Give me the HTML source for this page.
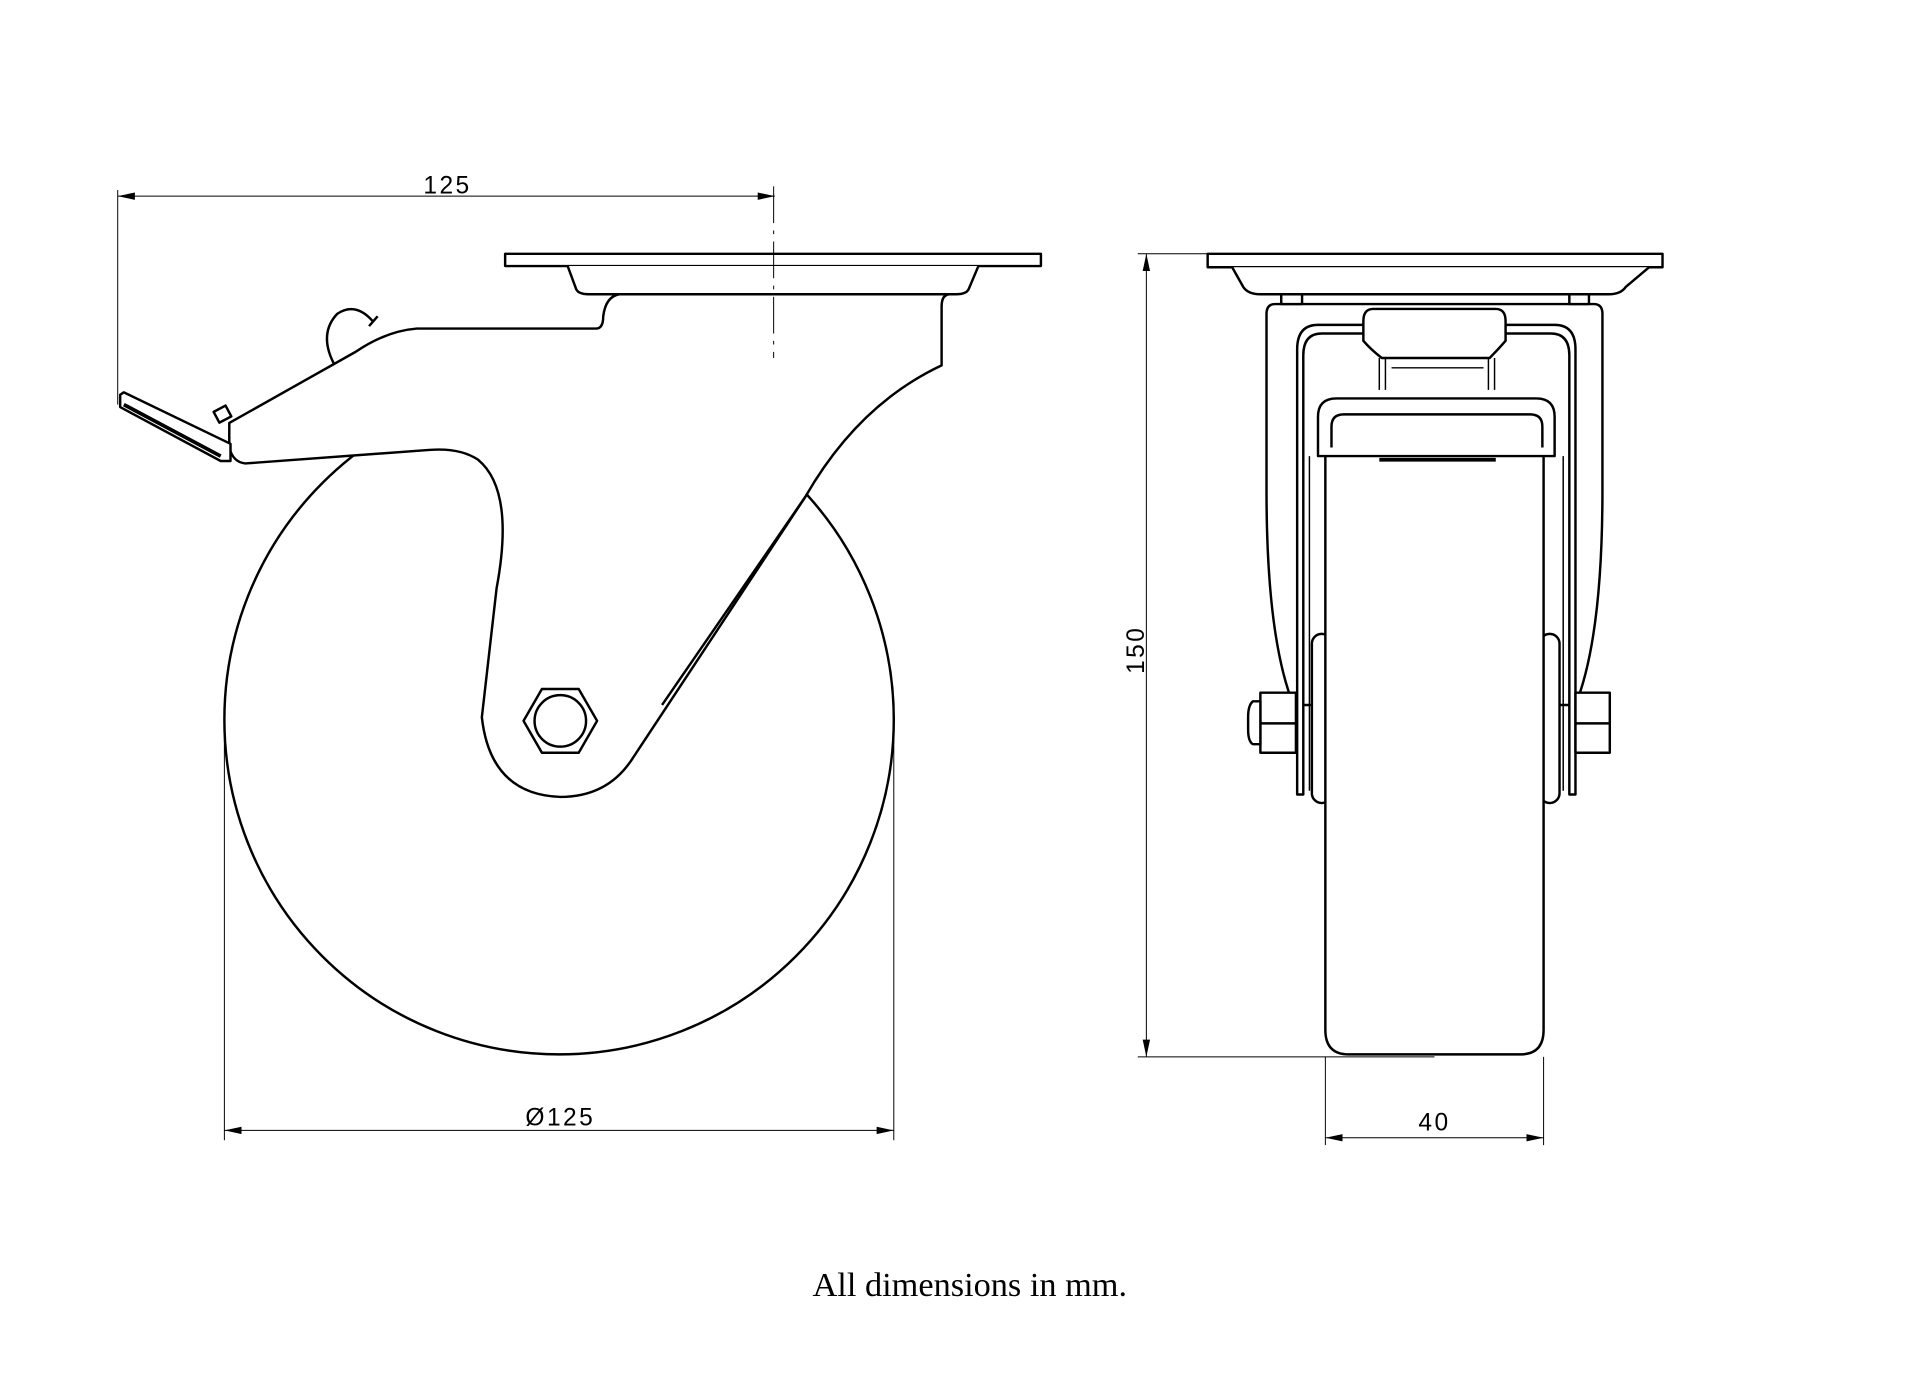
<!DOCTYPE html>
<html><head><meta charset="utf-8"><style>
html,body{margin:0;padding:0;background:#fff;}
svg{display:block;}
</style></head><body>
<svg width="1920" height="1394" viewBox="0 0 1566 1137" xmlns="http://www.w3.org/2000/svg">
<rect width="1566" height="1137" fill="#fff"/>
<defs>
<marker id="ar" markerWidth="14" markerHeight="6" refX="14" refY="3" orient="auto-start-reverse" markerUnits="userSpaceOnUse"><path d="M0,0 L14,3 L0,6 Z" fill="#000"/></marker>
</defs>
<g fill="none" stroke="#000" stroke-width="0.8">
<line x1="96" y1="155" x2="96" y2="330"/>
<line x1="96" y1="160" x2="632" y2="160" marker-start="url(#ar)" marker-end="url(#ar)"/>
<line x1="183" y1="600" x2="183" y2="930"/>
<line x1="729" y1="600" x2="729" y2="930"/>
<line x1="183" y1="922" x2="729" y2="922" marker-start="url(#ar)" marker-end="url(#ar)"/>
<line x1="928" y1="207" x2="985" y2="207"/>
<line x1="928" y1="862" x2="1170" y2="862"/>
<line x1="935" y1="207" x2="935" y2="862" marker-start="url(#ar)" marker-end="url(#ar)"/>
<line x1="1081" y1="862" x2="1081" y2="934"/>
<line x1="1259" y1="862" x2="1259" y2="934"/>
<line x1="1081" y1="928" x2="1259" y2="928" marker-start="url(#ar)" marker-end="url(#ar)"/>
</g>
<g font-family="Liberation Sans, sans-serif" font-size="20" fill="#000" text-anchor="middle">
<text x="365" y="158" letter-spacing="2">125</text>
<text x="457" y="918" letter-spacing="2">Ø125</text>
<text x="1170" y="922" letter-spacing="2">40</text>
<text x="0" y="0" letter-spacing="2" transform="translate(933,530) rotate(-90)">150</text>
</g>
<text x="791" y="1057" font-family="Liberation Serif, serif" font-size="28" text-anchor="middle">All dimensions in mm.</text>

<g stroke="#000" stroke-width="2" fill="#fff" stroke-linejoin="round">
<circle cx="456" cy="587" r="273"/>
<rect x="412" y="207" width="437" height="10"/>
<path d="M463,217 L470,236 Q472,240 480,240 L780,240 Q788,240 790,236 L798,217"/>
<path d="M775,240 Q768,240 768,250 L768,298 Q700,330 657,405 L515,620 Q495,650 457,650 Q400,648 393,585 L405,480 Q420,400 390,375 Q375,365 350,367 L200,378 Q190,377 187,365 L187,345 L290,287 Q315,270 340,268 L486,268 Q492,268 492,258 Q494,242 505,240 Z"/>
<path d="M657,405 L540,575" fill="none"/>
<path d="M98,322 L101,320 L188,362 L188,376 L180,376 L98,332 Z"/>
<path d="M101,330 L180,372" fill="none" stroke-width="3"/>
<rect x="176" y="333" width="11" height="10" transform="rotate(-28 181 338)"/>
<path d="M304,262 Q290,246 275,256 Q260,272 272,296" fill="none" stroke-width="2"/>
<path d="M308,258 L301,266" fill="none"/>
<path d="M427,588 L442,562 L472,562 L487,588 L472,614 L442,614 Z"/>
<circle cx="457" cy="588" r="21"/>
<path d="M1040,248 L1300,248 Q1307,248 1307,256 L1307,400 Q1307,520 1285,575 L1055,575 Q1033,520 1033,400 L1033,256 Q1033,248 1040,248 Z"/>
<rect x="985" y="207" width="371" height="11"/>
<path d="M1005,218 L1014,234 Q1018,240 1028,240 L1312,240 Q1322,240 1326,234 L1345,218"/>
<rect x="1045" y="240" width="17" height="8"/>
<rect x="1280" y="240" width="16" height="8"/>
<path d="M1058,648 L1058,285 Q1058,265 1075,265 L1268,265 Q1285,265 1285,285 L1285,648 L1280,648 L1280,290 Q1280,272 1265,272 L1078,272 Q1063,272 1063,290 L1063,648 Z"/>
<rect x="1070" y="517" width="16" height="138" rx="8"/>
<rect x="1256" y="517" width="16" height="138" rx="8"/>
<path d="M1081,365 L1259,365 L1259,840 Q1259,860 1240,860 L1100,860 Q1081,860 1081,840 Z"/>
<path d="M1063,365 L1063,645 M1068,372 L1068,645 M1280,365 L1280,645 M1275,372 L1275,645" fill="none" stroke-width="1.2"/>
<path d="M1075,372 L1075,340 Q1075,325 1090,325 L1253,325 Q1268,325 1268,340 L1268,372 Z"/>
<path d="M1086,365 L1086,348 Q1086,338 1096,338 L1248,338 Q1258,338 1258,348 L1258,365" fill="none"/>
<path d="M1125,375 L1220,375" fill="none" stroke-width="3"/>
<path d="M1120,252 L1220,252 Q1228,252 1228,262 L1228,278 Q1222,285 1215,292 L1127,292 Q1118,285 1112,278 L1112,262 Q1112,252 1120,252 Z"/>
<path d="M1125,292 L1125,318 M1130,292 L1130,318 M1214,292 L1214,318 M1219,292 L1219,318 M1135,300 L1210,300" fill="none" stroke-width="1.2"/>
<rect x="1028" y="565" width="29" height="49"/>
<line x1="1028" y1="590" x2="1057" y2="590"/>
<path d="M1028,572 L1022,572 Q1018,575 1018,585 L1018,595 Q1018,605 1022,607 L1028,607 Z"/>
<rect x="1285" y="565" width="28" height="49"/>
<line x1="1285" y1="590" x2="1313" y2="590"/>
</g>
<line x1="631" y1="152" x2="631" y2="292" stroke="#000" stroke-width="0.8" stroke-dasharray="30,6,3,6"/>
</svg>
</body></html>
